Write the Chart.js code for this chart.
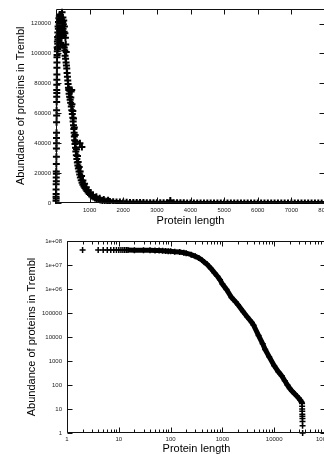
<!DOCTYPE html>
<html>
<head>
<meta charset="utf-8">
<script src="https://cdn.jsdelivr.net/npm/chart.js@4.4.1/dist/chart.umd.min.js"></script>
<style>
  html, body { margin: 0; padding: 0; background: #fff; overflow: hidden; }
  body { width: 324px; height: 454px; position: relative; }
  canvas { position: absolute; left: 0; }
  #lengths { top: 0; }
  #cumulative { top: 228px; }
</style>
</head>
<body>
<canvas id="lengths" width="360" height="228"></canvas>
<canvas id="cumulative" width="360" height="226"></canvas>
<script>
// --- top panel: number of entries per protein length ---
const streakLen = [1, 2, 3, 4, 5, 6, 7, 8, 9, 10, 11, 12, 13, 14, 15, 16, 17, 18, 19, 20, 21, 22, 23, 24, 25, 26, 27, 28, 29];
const streakCount = [1500, 4200, 9000, 6000, 12500, 3000, 17000, 21000, 14500, 26000, 19500, 31000, 36500, 43500, 40000,
  47000, 54000, 62000, 58500, 67500, 71000, 75500, 79000, 73500, 82500, 86000, 90500, 94000, 97500];

const peakLen = [32, 35, 38, 42, 45, 48, 52, 55, 58, 62, 65, 70, 75, 80, 85, 90, 95, 100, 105, 110,
  115, 120, 125, 130, 135, 140, 145, 150, 160, 165, 170, 175, 180, 185, 190, 195, 200, 205, 210, 220,
  225, 230, 240, 245, 250, 260, 265, 270, 280, 285, 290, 300, 305, 310];
const peakCount = [99000, 104000, 101500, 108000, 103000, 111000, 106500, 114000, 109500, 118000,
  104500, 116500, 121000, 112000, 123500, 108500, 119500, 125000, 114500, 122000,
  117500, 126000, 110500, 123000, 119000, 124500, 107000, 121500, 116000, 122500,
  111500, 120000, 127500, 113000, 118500, 105500, 121000, 124000, 116500, 119500,
  112000, 122000, 114500, 104000, 118000, 102000, 113500, 98500, 110500, 96500,
  106000, 94000, 101000, 92000];

const descLen = [320, 330, 340, 350, 360, 370, 380, 390, 395, 405, 410, 420, 430, 435, 450, 455, 468, 470, 485, 500,
  510, 520, 530, 540, 545, 555, 565, 580, 590, 605, 620, 635, 650, 665, 685, 705, 725, 750, 775, 800,
  830, 860, 890, 920, 955, 990, 1030, 1070, 1110, 1160, 1210, 1260, 1320, 1380, 1450, 1520, 1590];
const descCount = [90000, 87000, 84500, 82000, 79500, 77000, 75500, 73000, 76000, 71000, 75000, 69000, 75500, 67000,
  74500, 64500, 75500, 62000, 59500, 57000, 54500, 52000, 49500, 47000, 44500, 42000, 39500, 37000, 34500,
  32000, 29500, 27000, 25000, 23000, 21000, 19000, 17000, 15200, 13600, 12200, 11000, 10000, 9000, 8000,
  7000, 6100, 5300, 4600, 4000, 3400, 2900, 2400, 2000, 1700, 1400, 1150, 950];

// right-hand spread of the falling edge
const descOuterLen = [440, 475, 500, 520, 545, 570, 585, 610, 640, 660, 690, 720, 760, 800, 850, 900, 960, 1020, 1100, 1200, 1300, 1420, 1550];
const descOuterCount = [70500, 66000, 61500, 56500, 50500, 45500, 41000, 36000, 31500, 27500, 24000, 21000, 18000, 15000,
  12800, 10500, 8600, 7000, 5400, 4100, 3200, 2400, 1800];

const strayLen = [712, 770, 3400];
const strayCount = [40000, 37500, 1600];

// long tail, packed along the axis
const tailLen = [1600, 1700, 1800, 1900, 2000, 2100, 2200, 2300, 2400, 2500, 2600, 2700, 2800, 2900, 3000,
  3100, 3200, 3300, 3400, 3500, 3600, 3700, 3800, 3900, 4000, 4100, 4200, 4300, 4400, 4500,
  4600, 4700, 4800, 4900, 5000, 5100, 5200, 5300, 5400, 5500, 5600, 5700, 5800, 5900, 6000,
  6100, 6200, 6300, 6400, 6500, 6600, 6700, 6800, 6900, 7000, 7100, 7200, 7300, 7400, 7500,
  7600, 7700, 7800, 7900, 8000, 8100];
const tailCount = [950, 830, 690, 610, 520, 440, 410, 340, 320, 270, 255, 220, 205, 180, 172,
  150, 145, 125, 122, 104, 101, 92, 90, 79, 78, 68, 67, 60, 59, 52,
  51, 45, 46, 40, 39, 35, 35, 31, 31, 27, 27, 24, 25, 21, 22,
  19, 20, 17, 18, 15, 16, 14, 15, 12, 14, 11, 13, 10, 12, 9,
  11, 8, 10, 7, 9, 6];

const topXTicks = [1000, 2000, 3000, 4000, 5000, 6000, 7000, 8000];
const topYTicks = [0, 20000, 40000, 60000, 80000, 100000, 120000];

// --- bottom panel: proteins at least this long ---
const headLen = [2, 4, 5, 6, 7, 8, 9, 10, 11, 12, 13, 14];
const headCount = [42000000, 42000000, 41990000, 41980000, 41970000, 41960000, 41950000, 41940000, 41920000, 41900000, 41880000, 41850000];

const bodyLen = [15, 20, 30, 40, 50, 60, 70, 80, 90, 100, 120, 150, 180, 200, 250, 300, 350, 400, 450, 500,
  600, 700, 800, 900, 1000, 1200, 1500, 1800, 2000, 2500, 3000, 3700, 4000, 5000, 6000, 6700, 8000, 10000, 12000, 14000,
  16000, 18000, 20000, 22000, 25000, 27500, 30000, 32000, 34000, 34500];
const bodyCount = [41800000, 41600000, 41200000, 40800000, 40300000, 39800000, 39200000, 38500000, 37800000, 37200000,
  36000000, 34500000, 32500000, 31000000, 27000000, 23000000, 19500000, 16200000, 13000000, 11000000,
  7200000, 4800000, 3400000, 2400000, 1600000, 950000, 440000, 290000, 220000, 115000,
  70000, 40000, 31000, 11500, 5200, 3000, 1500, 640, 360, 240,
  150, 100, 72, 56, 42, 34, 28, 23, 19, 17];

const dropLen = [34600, 34700, 34800, 34900, 35000, 35100, 35200, 35300, 35400];
const dropCount = [13, 10, 8, 6, 5, 4, 3, 2, 1];

const logXTicks = [1, 10, 100, 1000, 10000, 100000];
const logXLabels = ['1', '10', '100', '1000', '10000', '100000'];
const logYTicks = [1, 10, 100, 1000, 10000, 100000, 1e6, 1e7, 1e8];
const logYLabels = ['1', '10', '100', '1000', '10000', '100000', '1e+06', '1e+07', '1e+08'];

Chart.defaults.font.family = '"Liberation Sans", Arial, sans-serif';
Chart.defaults.font.size = 6;
Chart.defaults.color = '#222';

const pts = (xs, ys) => xs.map((x, i) => ({ x: x, y: ys[i] }));

const marker = {
  pointStyle: 'cross',
  pointRadius: 3,
  pointBorderWidth: 1.5,
  pointBorderColor: '#000',
  pointBackgroundColor: '#000',
  borderColor: '#000',
};
// the histogram points are drawn a little heavier
const heavy = { ...marker, pointRadius: 3.5, pointBorderWidth: 2 };

// box round the plot with tics pointing inwards on all four sides
const frame = {
  id: 'frame',
  afterDatasetsDraw(chart, args, opts) {
    const { ctx, chartArea, scales: { x, y } } = chart;
    const l = Math.round(chartArea.left) + 0.5;
    const r = Math.round(chartArea.right) - 0.5;
    const t = Math.round(chartArea.top) + 0.5;
    const b = Math.round(chartArea.bottom) - 0.5;
    ctx.save();
    ctx.strokeStyle = '#111';
    ctx.lineWidth = 1;
    ctx.beginPath();
    ctx.rect(l, t, r - l, b - t);
    const xMark = (v, len) => {
      const p = Math.round(x.getPixelForValue(v)) + 0.5;
      ctx.moveTo(p, b); ctx.lineTo(p, b - len);
      ctx.moveTo(p, t); ctx.lineTo(p, t + len);
    };
    const yMark = (v, len) => {
      const p = Math.round(y.getPixelForValue(v)) + 0.5;
      ctx.moveTo(l, p); ctx.lineTo(l + len, p);
      ctx.moveTo(r, p); ctx.lineTo(r - len, p);
    };
    x.ticks.forEach(tk => xMark(tk.value, opts.tick));
    y.ticks.forEach(tk => yMark(tk.value, opts.tick));
    (opts.xMinor || []).forEach(v => xMark(v, opts.minor));
    ctx.stroke();
    ctx.restore();
  }
};

const titleFont = { size: 11, lineHeight: 1 };

new Chart(document.getElementById('lengths'), {
  type: 'scatter',
  data: {
    datasets: [
      {
        data: [].concat(pts(streakLen, streakCount), pts(peakLen, peakCount), pts(descLen, descCount),
          pts(descOuterLen, descOuterCount), pts(strayLen, strayCount)),
        clip: { left: 4, top: 4, right: 0, bottom: 1 },
        ...heavy,
      },
      {
        data: pts(tailLen, tailCount),
        showLine: true,
        borderWidth: 4,
        clip: { left: 4, top: 4, right: 0, bottom: 1 },
        ...heavy,
      },
    ],
  },
  options: {
    responsive: false,
    animation: false,
    events: [],
    layout: { padding: { left: 0, top: 5, right: 35, bottom: 0 } },
    plugins: {
      legend: { display: false },
      tooltip: { enabled: false },
      frame: { tick: 5 },
    },
    scales: {
      x: {
        type: 'linear',
        min: 0,
        max: 8000,
        grid: { display: false, drawTicks: false },
        border: { display: false },
        afterBuildTicks: s => { s.ticks = topXTicks.map(v => ({ value: v })); },
        afterFit: s => { s.height = 25; },
        ticks: { padding: 4, maxRotation: 0, autoSkip: false, callback: v => String(v) },
        title: { display: true, text: 'Protein length', color: '#000', font: titleFont, padding: { top: 0, bottom: 2 } },
      },
      y: {
        type: 'linear',
        min: 0,
        max: 130000,
        grid: { display: false, drawTicks: false },
        border: { display: false },
        afterBuildTicks: s => { s.ticks = topYTicks.map(v => ({ value: v })); },
        afterFit: s => { s.width = 56; },
        ticks: { padding: 5, autoSkip: false, callback: v => String(v) },
        title: { display: true, text: 'Abundance of proteins in Trembl', color: '#000', font: titleFont, padding: { top: 15, bottom: 0 } },
      },
    },
  },
  plugins: [frame],
});

new Chart(document.getElementById('cumulative'), {
  type: 'scatter',
  data: {
    datasets: [
      { data: pts(headLen, headCount), clip: 4, ...marker },
      { data: pts(bodyLen, bodyCount), showLine: true, borderWidth: 5, clip: 4, ...marker },
      { data: pts(dropLen, dropCount), clip: 4, ...marker },
    ],
  },
  options: {
    responsive: false,
    animation: false,
    events: [],
    layout: { padding: { left: 0, top: 13, right: 34, bottom: 0 } },
    plugins: {
      legend: { display: false },
      tooltip: { enabled: false },
      frame: {
        tick: 5,
        minor: 3,
        xMinor: logXTicks.slice(0, -1).flatMap(d => [2, 3, 4, 5, 6, 7, 8, 9].map(m => d * m)),
      },
    },
    scales: {
      x: {
        type: 'logarithmic',
        min: 1,
        max: 100000,
        grid: { display: false, drawTicks: false },
        border: { display: false },
        afterBuildTicks: s => { s.ticks = logXTicks.map(v => ({ value: v })); },
        afterFit: s => { s.height = 21; },
        ticks: { padding: 3, maxRotation: 0, autoSkip: false, callback: v => logXLabels[logXTicks.indexOf(v)] },
        title: { display: true, text: 'Protein length', color: '#000', font: titleFont, padding: { top: 0, bottom: 0 } },
      },
      y: {
        type: 'logarithmic',
        min: 1,
        max: 1e8,
        grid: { display: false, drawTicks: false },
        border: { display: false },
        afterBuildTicks: s => { s.ticks = logYTicks.map(v => ({ value: v })); },
        afterFit: s => { s.width = 67; },
        ticks: { padding: 5, autoSkip: false, callback: v => logYLabels[logYTicks.indexOf(v)] },
        title: { display: true, text: 'Abundance of proteins in Trembl', color: '#000', font: titleFont, padding: { top: 26, bottom: 0 } },
      },
    },
  },
  plugins: [frame],
});
</script>
</body>
</html>
